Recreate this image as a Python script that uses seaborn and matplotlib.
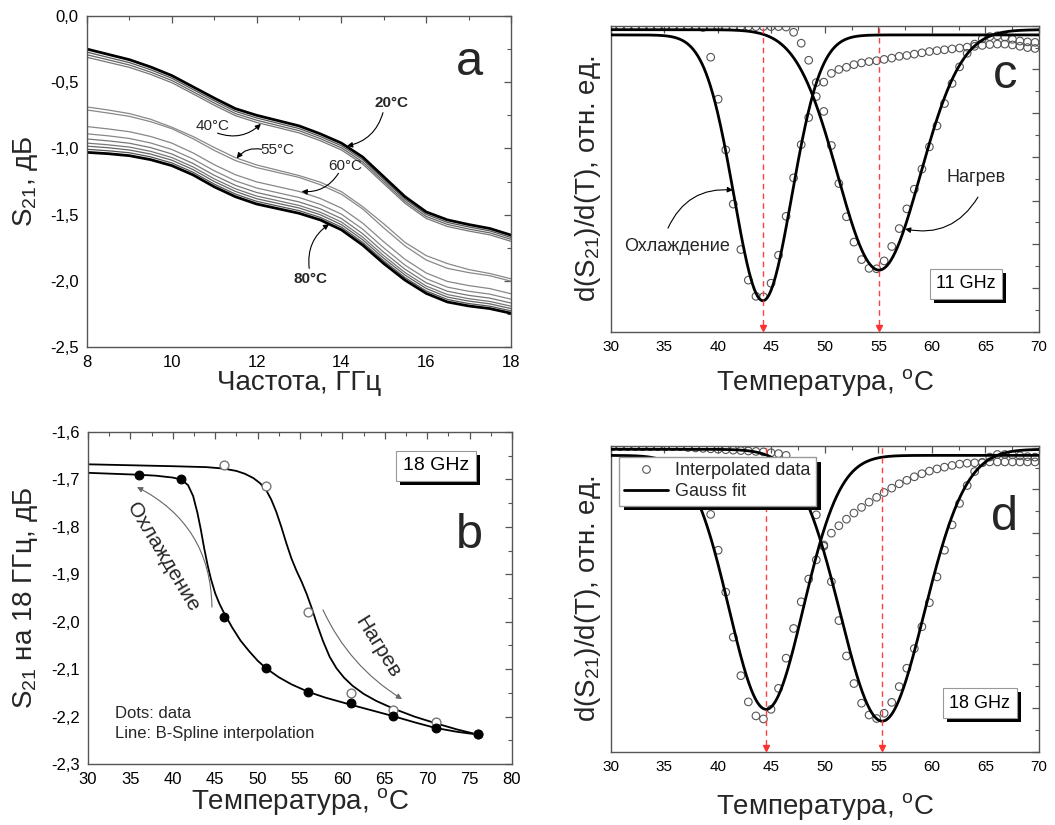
import numpy as np
import matplotlib
matplotlib.use("Agg")
import matplotlib.pyplot as plt
import matplotlib.patheffects as pe
import seaborn as sns
from matplotlib.ticker import MultipleLocator, FuncFormatter, NullFormatter
from matplotlib.lines import Line2D

sns.set_theme(style="white")
plt.rcParams["font.family"] = ["Liberation Sans", "DejaVu Sans"]
plt.rcParams["mathtext.fontset"] = "custom"
plt.rcParams["mathtext.rm"] = "Liberation Sans"
plt.rcParams["mathtext.it"] = "Liberation Sans:italic"
plt.rcParams["mathtext.bf"] = "Liberation Sans:bold"

# ---------------- (a) S21 spectra at different temperatures ----------------
freq_ghz = [8.0, 8.5, 9.0, 9.5, 10.0, 10.5, 11.0, 11.5, 12.0, 12.5, 13.0,
            13.5, 14.0, 14.5, 15.0, 15.5, 16.0, 16.5, 17.0, 17.5, 18.0]
s21_20c = [-0.25, -0.29, -0.33, -0.385, -0.45, -0.535, -0.62, -0.70, -0.75, -0.79, -0.83,
           -0.89, -0.96, -1.065, -1.215, -1.365, -1.48, -1.54, -1.575, -1.605, -1.655]
s21_low_b = [-0.273, -0.313, -0.352, -0.406, -0.47, -0.555, -0.64, -0.72, -0.77, -0.81, -0.85,
             -0.91, -0.98, -1.085, -1.235, -1.384, -1.498, -1.559, -1.593, -1.623, -1.673]
s21_low_c = [-0.293, -0.331, -0.37, -0.424, -0.487, -0.572, -0.657, -0.737, -0.787, -0.827, -0.866,
             -0.926, -0.996, -1.102, -1.251, -1.40, -1.514, -1.574, -1.609, -1.638, -1.687]
s21_40c = [-0.312, -0.35, -0.388, -0.441, -0.504, -0.588, -0.674, -0.753, -0.804, -0.843, -0.883,
           -0.942, -1.012, -1.118, -1.267, -1.415, -1.529, -1.59, -1.624, -1.653, -1.702]
s21_55c = [-0.687, -0.71, -0.737, -0.78, -0.84, -0.91, -0.993, -1.07, -1.125, -1.165, -1.205,
           -1.255, -1.327, -1.44, -1.57, -1.71, -1.81, -1.87, -1.915, -1.945, -1.985]
s21_55c_b = [-0.71, -0.733, -0.758, -0.798, -0.851, -0.927, -1.015, -1.092, -1.145, -1.182, -1.219,
             -1.274, -1.346, -1.457, -1.601, -1.737, -1.843, -1.906, -1.938, -1.962, -2.003]
s21_60c = [-0.835, -0.853, -0.874, -0.91, -0.96, -1.034, -1.123, -1.199, -1.253, -1.289, -1.325,
           -1.378, -1.451, -1.564, -1.706, -1.838, -1.941, -2.005, -2.036, -2.059, -2.098]
s21_high_a = [-0.89, -0.905, -0.925, -0.959, -1.008, -1.08, -1.169, -1.245, -1.299, -1.335, -1.371,
              -1.423, -1.497, -1.61, -1.752, -1.882, -1.984, -2.048, -2.079, -2.101, -2.139]
s21_high_b = [-0.929, -0.943, -0.961, -0.994, -1.042, -1.114, -1.203, -1.279, -1.333, -1.369, -1.404,
              -1.456, -1.53, -1.644, -1.785, -1.913, -2.015, -2.079, -2.11, -2.131, -2.168]
s21_high_c = [-0.96, -0.973, -0.99, -1.022, -1.069, -1.14, -1.23, -1.305, -1.36, -1.395, -1.431,
              -1.482, -1.556, -1.67, -1.811, -1.938, -2.04, -2.104, -2.135, -2.156, -2.192]
s21_high_d = [-0.983, -0.995, -1.012, -1.043, -1.089, -1.16, -1.25, -1.325, -1.38, -1.415, -1.45,
              -1.501, -1.576, -1.69, -1.831, -1.957, -2.058, -2.123, -2.153, -2.174, -2.21]
s21_high_e = [-1.007, -1.018, -1.033, -1.064, -1.11, -1.18, -1.27, -1.345, -1.40, -1.435, -1.47,
              -1.521, -1.595, -1.71, -1.85, -1.976, -2.077, -2.141, -2.172, -2.192, -2.227]
s21_80c = [-1.03, -1.04, -1.055, -1.085, -1.13, -1.20, -1.29, -1.365, -1.42, -1.455, -1.49,
           -1.54, -1.615, -1.73, -1.87, -1.995, -2.095, -2.16, -2.19, -2.21, -2.245]

# ---------------- (b) S21 at 18 GHz vs temperature ----------------
b_cool_t = [36, 41, 46, 51, 56, 61, 66, 71, 76]
b_cool_s21 = [-1.690, -1.700, -1.990, -2.097, -2.148, -2.172, -2.199, -2.225, -2.237]
b_heat_t = [46, 51, 56, 61, 66, 71, 76]
b_heat_s21 = [-1.670, -1.714, -1.979, -2.151, -2.186, -2.212, -2.237]
# B-spline curves
b_cool_line_t = [30, 33, 36, 38, 40, 41, 41.8, 42.4, 42.9, 43.3, 43.7, 44.1, 44.5, 45.0, 45.5,
                 46.0, 47.0, 48.0, 49.0, 50.0, 51.0, 52.5, 54.0, 56.0, 58.0, 61.0, 63.5, 66.0,
                 68.5, 71.0, 73.5, 76.0]
b_cool_line = [-1.686, -1.688, -1.690, -1.692, -1.696, -1.700, -1.712, -1.735, -1.770, -1.805,
               -1.845, -1.880, -1.910, -1.940, -1.962, -1.980, -2.012, -2.040, -2.062, -2.082,
               -2.098, -2.117, -2.132, -2.148, -2.160, -2.175, -2.187, -2.199, -2.212, -2.224,
               -2.232, -2.238]
b_heat_line_t = [30, 35, 40, 44, 46, 47.5, 48.5, 49.5, 50.3, 51.0, 51.6, 52.2, 52.8, 53.4, 54.0,
                 54.6, 55.2, 55.8, 56.4, 57.0, 57.7, 58.5, 59.3, 60.2, 61.2, 62.5, 64.0, 66.0,
                 68.5, 71.0, 73.5, 76.0]
b_heat_line = [-1.668, -1.670, -1.672, -1.674, -1.677, -1.682, -1.688, -1.697, -1.708, -1.722,
               -1.742, -1.768, -1.800, -1.835, -1.867, -1.893, -1.916, -1.942, -1.972, -2.005,
               -2.040, -2.074, -2.098, -2.118, -2.135, -2.152, -2.167, -2.183, -2.200, -2.214,
               -2.227, -2.238]

# ---------------- (c), (d) derivative curves (relative units) ----------------
temp_grid = [30.15, 30.86, 31.56, 32.27, 32.97, 33.68, 34.38, 35.09, 35.79, 36.50, 37.20, 37.91,
             38.61, 39.32, 40.02, 40.73, 41.43, 42.14, 42.84, 43.55, 44.25, 44.96, 45.66, 46.37,
             47.07, 47.78, 48.48, 49.19, 49.89, 50.60, 51.30, 52.01, 52.71, 53.42, 54.12, 54.83,
             55.53, 56.24, 56.94, 57.65, 58.35, 59.06, 59.76, 60.47, 61.17, 61.88, 62.58, 63.29,
             63.99, 64.70, 65.40, 66.11, 66.81, 67.52, 68.22, 68.93, 69.63]
c_cool_pts = [6.98, 6.98, 6.98, 6.98, 6.98, 6.98, 6.98, 6.98, 6.98, 6.98, 6.98, 6.98, 6.96,
              6.28, 5.32, 4.16, 2.92, 1.88, 1.18, 0.81, 0.80, 1.11, 1.75, 2.64, 3.52, 4.28, 4.90,
              5.38, 5.71, 5.91, 6.00, 6.05, 6.11, 6.15, 6.18, 6.20, 6.23, 6.26, 6.30, 6.32, 6.35,
              6.38, 6.41, 6.43, 6.45, 6.47, 6.49, 6.51, 6.53, 6.55, 6.57, 6.58, 6.58, 6.56, 6.53,
              6.50, 6.48]
c_heat_pts = [6.98, 6.98, 6.98, 6.98, 6.98, 6.98, 6.98, 6.98, 6.98, 6.98, 6.98, 6.98, 6.98,
              6.98, 6.98, 6.98, 6.98, 6.98, 6.98, 6.98, 6.98, 6.98, 6.98,
              6.97, 6.85, 6.60, 6.21, 5.70, 5.04, 4.26, 3.39, 2.63, 2.05, 1.65, 1.45, 1.44, 1.62,
              1.95, 2.36, 2.81, 3.26, 3.72, 4.23, 4.71, 5.22, 5.68, 6.06, 6.37, 6.58, 6.70, 6.75,
              6.77, 6.74, 6.69, 6.65, 6.63, 6.62]
d_cool_pts = [6.99, 6.99, 6.99, 6.99, 6.99, 6.99, 6.99, 6.99, 6.99, 6.99, 6.99, 6.99, 6.10,
              5.43, 4.61, 3.65, 2.62, 1.74, 1.14, 0.82, 0.75, 0.97, 1.45, 2.14, 2.82, 3.43, 3.95,
              4.39, 4.73, 5.00, 5.17, 5.32, 5.46, 5.59, 5.71, 5.82, 5.93, 6.03, 6.13, 6.21, 6.29,
              6.36, 6.42, 6.47, 6.51, 6.55, 6.58, 6.60, 6.61, 6.62, 6.63, 6.63, 6.63, 6.63, 6.63,
              6.63, 6.63]
d_heat_pts = [6.98, 6.98, 6.98, 6.98, 6.98, 6.98, 6.98, 6.98, 6.98, 6.98, 6.96, 6.95, 6.94,
              6.93, 6.92, 6.91, 6.90, 6.89, 6.88, 6.87, 6.86, 6.84, 6.82, 6.78,
              6.62, 6.36, 5.95, 5.42, 4.70, 3.89, 3.00, 2.19, 1.56, 1.11, 0.84, 0.76, 0.88, 1.13,
              1.49, 1.91, 2.36, 2.86, 3.41, 4.00, 4.61, 5.19, 5.68, 6.09, 6.41, 6.61, 6.74, 6.80,
              6.80, 6.79, 6.77, 6.75, 6.74]

# Gauss-fit parameters: [cooling, heating]
c_fit_center = [44.2, 55.05]
c_fit_sigma = [2.7, 3.85]
c_fit_depth = [6.08, 5.50]
c_fit_base = [6.79, 6.91]
d_fit_center = [44.5, 55.35]
d_fit_sigma = [3.45, 3.9]
d_fit_depth = [5.81, 6.22]
d_fit_base = [6.78, 6.92]

# ---------------- figure ----------------
fig = plt.figure(figsize=(10.55, 8.25), dpi=100)
ax_a = fig.add_axes([0.0825, 0.5794, 0.4019, 0.4012])
ax_b = fig.add_axes([0.0834, 0.0739, 0.4019, 0.4024])
ax_c = fig.add_axes([0.5791, 0.5979, 0.4057, 0.3709])
ax_d = fig.add_axes([0.5791, 0.0888, 0.4057, 0.3709])

LABEL_FS = 20
comma = FuncFormatter(lambda v, p: f"{v:.1f}".replace(".", ",") if abs(v) > 1e-9 else "0,0")
integer = FuncFormatter(lambda v, p: f"{v:.0f}")
box_shadow = [pe.withSimplePatchShadow(offset=(3, -3), shadow_rgbFace="black", alpha=1.0)]


def frame(ax, xmaj, xmin, ymaj, ymin, tick_fs):
    ax.xaxis.set_major_locator(MultipleLocator(xmaj))
    ax.xaxis.set_minor_locator(MultipleLocator(xmin))
    ax.yaxis.set_major_locator(MultipleLocator(ymaj))
    ax.yaxis.set_minor_locator(MultipleLocator(ymin))
    ax.tick_params(which="both", direction="in", top=True, right=True,
                   color="#555555", labelcolor="black")
    ax.tick_params(which="major", length=5, width=0.9, labelsize=tick_fs, pad=6)
    ax.tick_params(which="minor", length=3, width=0.8)
    for sp in ax.spines.values():
        sp.set_color("#555555")
        sp.set_linewidth(1.0)
    ax.grid(False)


def place_labels(ax, xlabel, ylabel, x_center_y, y_center_x):
    ax.set_xlabel(xlabel, fontsize=LABEL_FS)
    ax.set_ylabel(ylabel, fontsize=LABEL_FS)
    ax.xaxis.label.set_va("center")
    ax.yaxis.label.set_va("center")
    ax.xaxis.set_label_coords(0.5, x_center_y)
    ax.yaxis.set_label_coords(y_center_x, 0.5)


def tag_box(ax, x, y, label, fs=13):
    t = ax.text(x, y, label, transform=ax.transAxes, ha="center", va="center", fontsize=fs,
                color="black", zorder=7,
                bbox=dict(boxstyle="square,pad=0.35", fc="white", ec="#999999", lw=0.8))
    t.get_bbox_patch().set_path_effects(box_shadow)


# ----- panel a -----
a_thin = [(s21_low_b, "#555555"), (s21_low_c, "#666666"), (s21_40c, "#777777"),
          (s21_55c, "#888888"), (s21_55c_b, "#888888"), (s21_60c, "#888888"),
          (s21_high_a, "#888888"), (s21_high_b, "#777777"), (s21_high_c, "#777777"),
          (s21_high_d, "#666666"), (s21_high_e, "#555555")]
for vals, col in a_thin:
    sns.lineplot(x=freq_ghz, y=vals, ax=ax_a, color=col, lw=0.9, estimator=None, sort=False)
for vals in (s21_20c, s21_80c):
    sns.lineplot(x=freq_ghz, y=vals, ax=ax_a, color="black", lw=2.0, estimator=None, sort=False)

ax_a.set_xlim(8, 18)
ax_a.set_ylim(-2.5, 0)
frame(ax_a, 2, 1, 0.5, 0.25, 12)
ax_a.yaxis.set_major_formatter(comma)
ax_a.xaxis.set_major_formatter(integer)
place_labels(ax_a, "Частота, ГГц", "S$_{21}$, дБ", -0.108, -0.145)
ax_a.text(0.903, 0.822, "a", transform=ax_a.transAxes, fontsize=35, ha="center", va="baseline")

arr_a = dict(arrowstyle="-|>", color="black", lw=0.8, mutation_scale=8, shrinkA=0, shrinkB=0)
ax_a.text(15.19, -0.657, "20°C", fontsize=11, fontweight="bold", ha="center", va="center")
ax_a.annotate("", xy=(14.13, -0.982), xytext=(14.98, -0.73),
              arrowprops=dict(arr_a, connectionstyle="arc3,rad=-0.3"))
ax_a.text(10.97, -0.83, "40°C", fontsize=11, ha="center", va="center")
ax_a.annotate("", xy=(12.1, -0.815), xytext=(11.08, -0.885),
              arrowprops=dict(arr_a, connectionstyle="arc3,rad=0.3"))
ax_a.text(12.5, -1.012, "55°C", fontsize=11, ha="center", va="center")
ax_a.annotate("", xy=(11.53, -1.075), xytext=(12.12, -1.007),
              arrowprops=dict(arr_a, connectionstyle="arc3,rad=0.3"))
ax_a.text(14.08, -1.133, "60°C", fontsize=11, ha="center", va="center")
ax_a.annotate("", xy=(13.06, -1.325), xytext=(13.93, -1.188),
              arrowprops=dict(arr_a, connectionstyle="arc3,rad=-0.3"))
ax_a.text(13.26, -1.989, "80°C", fontsize=11, fontweight="bold", ha="center", va="center")
ax_a.annotate("", xy=(13.71, -1.572), xytext=(13.24, -1.906),
              arrowprops=dict(arr_a, connectionstyle="arc3,rad=-0.3"))

# ----- panel b -----
sns.lineplot(x=b_heat_line_t, y=b_heat_line, ax=ax_b, color="black", lw=1.3,
             estimator=None, sort=False)
sns.lineplot(x=b_cool_line_t, y=b_cool_line, ax=ax_b, color="black", lw=1.3,
             estimator=None, sort=False)
sns.scatterplot(x=b_heat_t, y=b_heat_s21, ax=ax_b, marker="o", s=40, facecolor="white",
                edgecolor="#777777", linewidth=1.0, zorder=3)
sns.scatterplot(x=b_cool_t, y=b_cool_s21, ax=ax_b, marker="o", s=40, facecolor="black",
                edgecolor="black", linewidth=0.8, zorder=4)
ax_b.set_xlim(30, 80)
ax_b.set_ylim(-2.3, -1.6)
frame(ax_b, 5, 2.5, 0.1, 0.05, 12)
ax_b.yaxis.set_major_formatter(comma)
ax_b.xaxis.set_major_formatter(integer)
place_labels(ax_b, "Температура, $^{\\rm o}$C", "S$_{21}$ на 18 ГГц, дБ", -0.112, -0.148)
ax_b.text(0.899, 0.651, "b", transform=ax_b.transAxes, fontsize=35, ha="center", va="baseline")
tag_box(ax_b, 0.821, 0.898, "18 GHz", fs=14)
ax_b.text(33.18, -2.193, "Dots: data", fontsize=12, ha="left", va="center")
ax_b.text(33.18, -2.235, "Line: B-Spline interpolation", fontsize=12, ha="left", va="center")
ax_b.text(38.84, -1.864, "Охлаждение", fontsize=15, rotation=-59, rotation_mode="anchor",
          ha="center", va="center")
ax_b.text(64.2, -2.053, "Нагрев", fontsize=15, rotation=-58, rotation_mode="anchor",
          ha="center", va="center")
arr_b = dict(arrowstyle="-|>", color="#666666", lw=0.8, mutation_scale=8, shrinkA=0, shrinkB=0)
ax_b.annotate("", xy=(35.78, -1.716), xytext=(44.62, -1.969),
              arrowprops=dict(arr_b, connectionstyle="arc3,rad=0.3"))
ax_b.annotate("", xy=(67.03, -2.163), xytext=(57.71, -1.975),
              arrowprops=dict(arr_b, connectionstyle="arc3,rad=0.15"))

# ----- panels c and d -----
t_fit = np.linspace(30, 70, 801)


def derivative_panel(ax, cool_pts, heat_pts, centers, sigmas, depths, bases,
                     letter, letter_y, xlabel_y):
    for pts in (cool_pts, heat_pts):
        sns.scatterplot(x=temp_grid, y=pts, ax=ax, marker="o", s=30, facecolor="none",
                        edgecolor="#555555", linewidth=0.8, zorder=3)
    for cen, sig, dep, base in zip(centers, sigmas, depths, bases):
        gauss = base - dep * np.exp(-0.5 * ((t_fit - cen) / sig) ** 2)
        sns.lineplot(x=t_fit, y=gauss, ax=ax, color="black", lw=2.0, estimator=None,
                     sort=False, zorder=4)
        ax.plot([cen, cen], [0.15, 7], color="#ff4040", lw=1.0, ls=(0, (4, 3)), zorder=5)
        ax.plot([cen], [0.09], marker="v", ms=5, color="#ff3030", zorder=6, clip_on=False)
    ax.set_xlim(30, 70)
    ax.set_ylim(0, 7)
    frame(ax, 5, 2.5, 1, 0.5, 11)
    ax.yaxis.set_major_formatter(NullFormatter())
    ax.xaxis.set_major_formatter(integer)
    place_labels(ax, "Температура, $^{\\rm o}$C", "d(S$_{21}$)/d(T), отн. ед.",
                 xlabel_y, -0.054)
    ax.text(0.92, letter_y, letter, transform=ax.transAxes,
            fontsize=35, ha="center", va="baseline")


derivative_panel(ax_c, c_cool_pts, c_heat_pts, c_fit_center, c_fit_sigma, c_fit_depth,
                 c_fit_base, "c", 0.795, -0.165)
tag_box(ax_c, 0.829, 0.156, "11 GHz")
arr_c = dict(arrowstyle="-|>", color="black", lw=0.8, mutation_scale=8, shrinkA=0, shrinkB=0)
ax_c.text(36.17, 1.94, "Охлаждение", fontsize=13, ha="center", va="center")
ax_c.annotate("", xy=(41.4, 3.24), xytext=(35.33, 2.37),
              arrowprops=dict(arr_c, connectionstyle="arc3,rad=-0.35"))
ax_c.text(64.11, 3.52, "Нагрев", fontsize=13, ha="center", va="center")
ax_c.annotate("", xy=(57.48, 2.35), xytext=(64.3, 3.08),
              arrowprops=dict(arr_c, connectionstyle="arc3,rad=-0.35"))

derivative_panel(ax_d, d_cool_pts, d_heat_pts, d_fit_center, d_fit_sigma, d_fit_depth,
                 d_fit_base, "d", 0.725, -0.18)
tag_box(ax_d, 0.862, 0.159, "18 GHz")
handles = [Line2D([], [], marker="o", ls="", mfc="none", mec="#555555", ms=5.5, mew=0.8),
           Line2D([], [], color="black", lw=2.0)]
leg = ax_d.legend(handles, ["Interpolated data", "Gauss fit"], loc="upper left",
                  bbox_to_anchor=(0.019, 0.963), frameon=True, fancybox=False,
                  fontsize=13, edgecolor="#999999", framealpha=1, borderaxespad=0,
                  handlelength=2.4, borderpad=0.3, labelspacing=0.2, handletextpad=0.4)
leg.get_frame().set_path_effects(
    [pe.withSimplePatchShadow(offset=(3.5, -3.5), shadow_rgbFace="black", alpha=1.0)])

fig.savefig("out.png", dpi=100, facecolor="white")
